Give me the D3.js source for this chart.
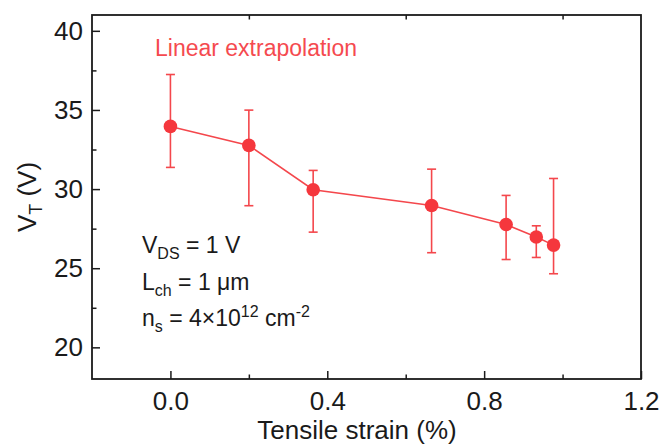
<!DOCTYPE html>
<html>
<head>
<meta charset="utf-8">
<script src="https://cdn.jsdelivr.net/npm/d3@7"></script>
<style>
  html, body { margin: 0; padding: 0; background: #fff; }
  svg { display: block; font-family: "Liberation Sans", Arial, sans-serif; }
</style>
</head>
<body>
<svg id="chart" width="662" height="445"></svg>
<script>
// Threshold voltage vs tensile strain
const strain = [0, 0.2, 0.364, 0.666, 0.856, 0.933, 0.977];
const vt     = [33.96, 32.76, 29.96, 28.96, 27.76, 26.97, 26.46];
const vtLow  = [31.37, 28.95, 27.28, 25.98, 25.55, 25.68, 24.65];
const vtHigh = [37.24, 34.99, 31.18, 31.26, 29.6, 27.68, 30.67];

const xTicks = [0.0, 0.4, 0.8, 1.2];
const xMinor = [0.2, 0.6, 1.0];
const yTicks = [20, 25, 30, 35, 40];
const yMinor = [22.5, 27.5, 32.5, 37.5];

const red = "#f5373d";
const lineRed = "#f4474c";
const ink = "#1a1a1a";

const svg = d3.select("#chart");
const m = { left: 92, top: 15, right: 641, bottom: 379 };

const x = d3.scaleLinear().domain([-0.2, 1.2]).range([m.left, m.right]);
const y = d3.scaleLinear().domain([18, 41]).range([m.bottom, m.top]);

const pts = strain.map((s, i) => ({ s, v: vt[i], lo: vtLow[i], hi: vtHigh[i] }));

// bottom axis: inward ticks
const axBottom = svg.append("g").attr("transform", `translate(0,${m.bottom})`);
axBottom.call(d3.axisBottom(x).tickValues(xTicks).tickFormat(d3.format(".1f"))
  .tickSizeInner(-8).tickSizeOuter(0).tickPadding(13));
axBottom.append("g").call(d3.axisBottom(x).tickValues(xMinor).tickFormat("")
  .tickSizeInner(-4.5).tickSizeOuter(0));

// left axis: inward ticks
const axLeft = svg.append("g").attr("transform", `translate(${m.left},0)`);
axLeft.call(d3.axisLeft(y).tickValues(yTicks).tickFormat(d3.format("d"))
  .tickSizeInner(-8).tickSizeOuter(0).tickPadding(9));
axLeft.append("g").call(d3.axisLeft(y).tickValues(yMinor).tickFormat("")
  .tickSizeInner(-4.5).tickSizeOuter(0));

// top axis: minor ticks only
const axTop = svg.append("g").attr("transform", `translate(0,${m.top})`);
axTop.call(d3.axisTop(x).tickValues(xMinor).tickFormat("")
  .tickSizeInner(-4.5).tickSizeOuter(0));

svg.selectAll(".domain").remove();
svg.selectAll(".tick line").attr("stroke", ink).attr("stroke-width", 1.5);
svg.selectAll(".tick text").attr("fill", ink).style("font-size", "26px");

// frame
svg.append("rect")
  .attr("x", m.left).attr("y", m.top)
  .attr("width", m.right - m.left).attr("height", m.bottom - m.top)
  .attr("fill", "none").attr("stroke", ink).attr("stroke-width", 1.8);

// connecting line
svg.append("path")
  .datum(pts)
  .attr("fill", "none").attr("stroke", lineRed).attr("stroke-width", 1.6)
  .attr("d", d3.line().x(d => x(d.s)).y(d => y(d.v)));

// error bars
const eb = svg.append("g").attr("stroke", lineRed).attr("stroke-width", 1.6);
eb.selectAll("line.v").data(pts).join("line").attr("class", "v")
  .attr("x1", d => x(d.s)).attr("x2", d => x(d.s))
  .attr("y1", d => y(d.lo)).attr("y2", d => y(d.hi));
eb.selectAll("line.hi").data(pts).join("line").attr("class", "hi")
  .attr("x1", d => x(d.s) - 4.5).attr("x2", d => x(d.s) + 4.5)
  .attr("y1", d => y(d.hi)).attr("y2", d => y(d.hi));
eb.selectAll("line.lo").data(pts).join("line").attr("class", "lo")
  .attr("x1", d => x(d.s) - 4.5).attr("x2", d => x(d.s) + 4.5)
  .attr("y1", d => y(d.lo)).attr("y2", d => y(d.lo));

// markers
svg.append("g").selectAll("circle").data(pts).join("circle")
  .attr("cx", d => x(d.s)).attr("cy", d => y(d.v)).attr("r", 6.8)
  .attr("fill", red);

// method label
svg.append("text").attr("x", 155).attr("y", 56)
  .attr("fill", "#f54a4f").style("font-size", "23px")
  .text("Linear extrapolation");

// measurement conditions
const note = svg.append("g").attr("fill", ink).style("font-size", "23px");
const t1 = note.append("text").attr("x", 142).attr("y", 253);
t1.append("tspan").text("V");
t1.append("tspan").attr("dy", 6).style("font-size", "16px").text("DS");
t1.append("tspan").attr("dy", -6).text(" = 1 V");

const t2 = note.append("text").attr("x", 142).attr("y", 290);
t2.append("tspan").text("L");
t2.append("tspan").attr("dy", 6).style("font-size", "16px").text("ch");
t2.append("tspan").attr("dy", -6).text(" = 1 \u03bcm");

const t3 = note.append("text").attr("x", 142).attr("y", 326);
t3.append("tspan").text("n");
t3.append("tspan").attr("dy", 6).style("font-size", "16px").text("s");
t3.append("tspan").attr("dy", -6).text(" = 4\u00d710");
t3.append("tspan").attr("dy", -9).style("font-size", "16px").text("12");
t3.append("tspan").attr("dy", 9).text(" cm");
t3.append("tspan").attr("dy", -9).style("font-size", "16px").text("-2");

// axis titles
svg.append("text")
  .attr("x", 357).attr("y", 439)
  .attr("text-anchor", "middle").attr("fill", ink).style("font-size", "26px")
  .text("Tensile strain (%)");

const yt = svg.append("text")
  .attr("transform", `translate(36,${(m.top + m.bottom) / 2}) rotate(-90)`)
  .attr("text-anchor", "middle").attr("fill", ink).style("font-size", "26px");
yt.append("tspan").text("V");
yt.append("tspan").attr("dy", 6).style("font-size", "18px").text("T");
yt.append("tspan").attr("dy", -6).text(" (V)");
</script>
</body>
</html>
